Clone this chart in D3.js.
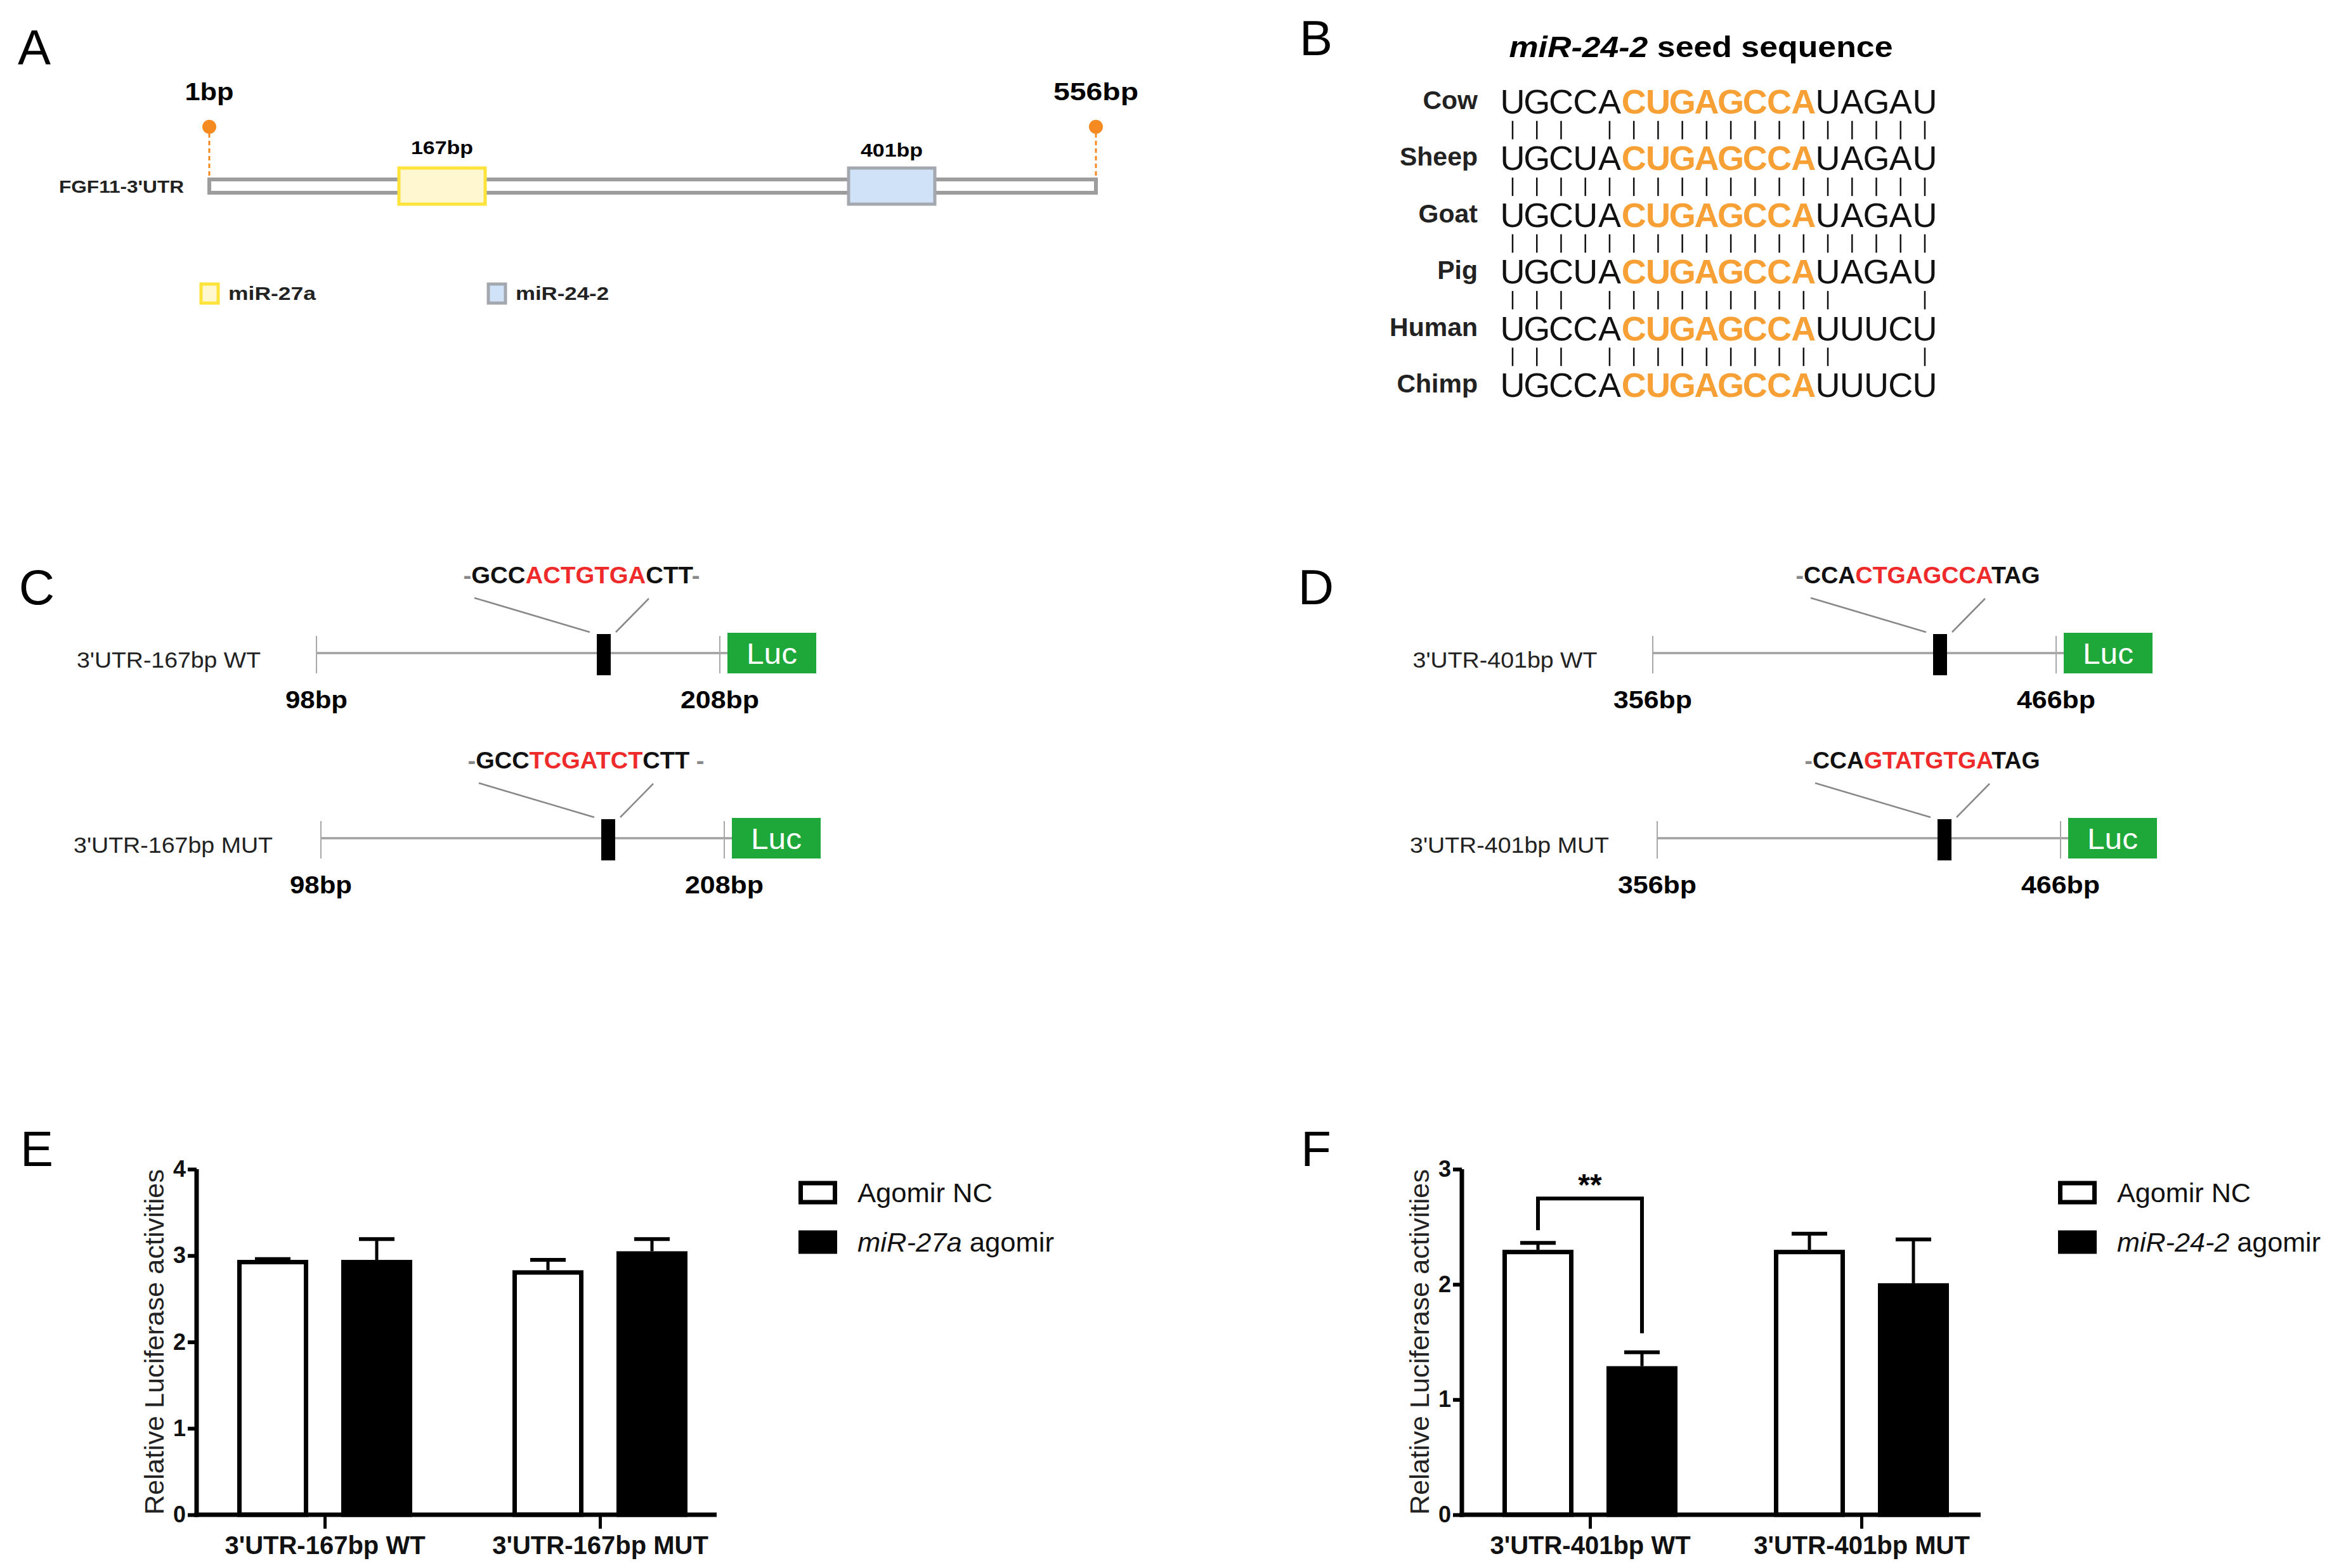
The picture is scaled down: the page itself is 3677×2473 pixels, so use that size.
<!DOCTYPE html>
<html><head><meta charset="utf-8">
<script src="https://cdn.jsdelivr.net/npm/d3@7"></script>
<style>html,body{margin:0;padding:0;background:#fff}svg{display:block}</style>
</head><body>
<script>
// ---------------- DATA ----------------
// Panel A
const utrName = "FGF11-3'UTR";
const utrEnds = [1, 556];
const siteBp = [167, 401];
const siteMirs = ["miR-27a", "miR-24-2"];
// Panel B
const species = ["Cow", "Sheep", "Goat", "Pig", "Human", "Chimp"];
const seqLeft = ["UGCCA", "UGCUA", "UGCUA", "UGCUA", "UGCCA", "UGCCA"];
const seedSeq = "CUGAGCCA";
const seqRight = ["UAGAU", "UAGAU", "UAGAU", "UAGAU", "UUUCU", "UUUCU"];
const matchRows = ["|||.||||||||||||||", "||||||||||||||||||", "||||||||||||||||||", "|||.||||||||||...|", "|||.||||||||||...|"];
// Panels C / D
const constructsC = [
  {label: "3'UTR-167bp WT", ends: [98, 208], site: 167, seq: [["-", "g"], ["GCC", "k"], ["ACTGTGA", "r"], ["CTT", "k"], ["-", "g"]]},
  {label: "3'UTR-167bp MUT", ends: [98, 208], site: 167, seq: [["-", "g"], ["GCC", "k"], ["TCGATCT", "r"], ["CTT", "k"], [" -", "g"]]}
];
const constructsD = [
  {label: "3'UTR-401bp WT", ends: [356, 466], site: 401, seq: [["-", "g"], ["CCA", "k"], ["CTGAGCCA", "r"], ["TAG", "k"]]},
  {label: "3'UTR-401bp MUT", ends: [356, 466], site: 401, seq: [["-", "g"], ["CCA", "k"], ["GTATGTGA", "r"], ["TAG", "k"]]}
];
// Panel E
const groupsE = ["3'UTR-167bp WT", "3'UTR-167bp MUT"];
const seriesE = ["Agomir NC", "miR-27a agomir"];
const meanE_NC = [2.95, 2.83];
const errE_NC = [0.01, 0.12];
const meanE_AG = [2.95, 3.05];
const errE_AG = [0.24, 0.14];
const ticksE = [0, 1, 2, 3, 4];
// Panel F
const groupsF = ["3'UTR-401bp WT", "3'UTR-401bp MUT"];
const seriesF = ["Agomir NC", "miR-24-2 agomir"];
const meanF_NC = [2.30, 2.30];
const errF_NC = [0.06, 0.14];
const meanF_AG = [1.29, 2.01];
const errF_AG = [0.12, 0.38];
const ticksF = [0, 1, 2, 3];
const sigF = "**";

// ---------------- DRAWING ----------------
const W = 3677, H = 2473;
const FONT = "'Liberation Sans', Arial, Helvetica, sans-serif";
const COL = {k: "#111", r: "#ee2a2a", g: "#888", orange: "#f7a035", dot: "#f58a20", luc: "#1fa83a"};
const svg = d3.select("body").append("svg").attr("width", W).attr("height", H)
  .attr("font-family", FONT);
svg.append("rect").attr("width", W).attr("height", H).attr("fill", "#fff");

function txt(g, x, y, parts, o = {}) {
  const t = g.append("text").attr("x", x).attr("y", y)
    .attr("font-size", o.size || 30)
    .attr("font-weight", o.weight || "normal")
    .attr("text-anchor", o.anchor || "start")
    .attr("dominant-baseline", "central")
    .attr("fill", o.fill || "#000");
  if (o.len) t.attr("textLength", o.len).attr("lengthAdjust", "spacingAndGlyphs");
  if (o.rotate) t.attr("transform", `rotate(${o.rotate},${x},${y})`);
  if (typeof parts === "string") parts = [{t: parts}];
  parts.forEach(p => {
    const s = t.append("tspan").text(p.t);
    if (p.fill) s.attr("fill", p.fill);
    if (p.italic) s.attr("font-style", "italic");
    if (p.weight) s.attr("font-weight", p.weight);
  });
  return t;
}

// Panel letters
[["A", 54, 75], ["B", 2075, 60], ["C", 58, 926], ["D", 2075, 926], ["E", 58, 1812], ["F", 2075, 1812]]
  .forEach(([l, x, y]) => txt(svg, x, y, l, {size: 78, anchor: "middle"}));

// ---------- Panel A ----------
(function () {
  const g = svg.append("g");
  const xA = d3.scaleLinear().domain([utrEnds[0], siteBp[0], siteBp[1], utrEnds[1]]).range([330, 697, 1406, 1728]);
  const barY = 283, barH = 21;
  g.append("rect").attr("x", xA(utrEnds[0])).attr("y", barY).attr("width", xA(utrEnds[1]) - xA(utrEnds[0])).attr("height", barH)
    .attr("fill", "#fff").attr("stroke", "#9d9d9d").attr("stroke-width", 6);
  const boxStyles = [{stroke: "#fde33a", fill: "#fff7cf"}, {stroke: "#a3a7ae", fill: "#cfe2f8"}];
  siteBp.forEach((bp, i) => {
    g.append("rect").attr("x", xA(bp) - 68).attr("y", 265).attr("width", 136).attr("height", 57)
      .attr("fill", boxStyles[i].fill).attr("stroke", boxStyles[i].stroke).attr("stroke-width", 5);
    txt(g, xA(bp), 233 + i * 4, bp + "bp", {size: 29, weight: "bold", anchor: "middle", len: 98});
  });
  utrEnds.forEach((bp, i) => {
    const x = xA(bp);
    g.append("line").attr("x1", x).attr("x2", x).attr("y1", 210).attr("y2", 280)
      .attr("stroke", COL.dot).attr("stroke-width", 3).attr("stroke-dasharray", "7,5");
    g.append("circle").attr("cx", x).attr("cy", 200).attr("r", 11).attr("fill", COL.dot);
    txt(g, x, 145, bp + "bp", {size: 38, weight: "bold", anchor: "middle", len: i ? 134 : 77});
  });
  txt(g, 290, 295, utrName, {size: 27, weight: "bold", anchor: "end", len: 197, fill: "#222"});
  // legend
  const legX = [314, 767];
  siteMirs.forEach((m, i) => {
    g.append("rect").attr("x", legX[i] + 3).attr("y", 448).attr("width", 27).attr("height", 30)
      .attr("fill", boxStyles[i].fill).attr("stroke", boxStyles[i].stroke).attr("stroke-width", 5);
    txt(g, legX[i] + 46, 463, m, {size: 29, weight: "bold", len: i ? 147 : 138, fill: "#222"});
  });
})();

// ---------- Panel B ----------
(function () {
  const g = svg.append("g");
  txt(g, 2682, 74, [{t: "miR-24-2", italic: true}, {t: " seed sequence"}], {size: 46, weight: "bold", anchor: "middle", len: 605});
  const yRow = d3.scalePoint().domain(species).range([158, 605]);
  const xChar = d3.scalePoint().domain(d3.range(18)).range([2385, 3035]);
  species.forEach((sp, i) => {
    txt(g, 2330, yRow(sp), sp, {size: 41, weight: "bold", anchor: "end", fill: "#222"});
    const chars = (seqLeft[i] + seedSeq + seqRight[i]).split("");
    const s0 = seqLeft[i].length, s1 = s0 + seedSeq.length;
    chars.forEach((c, j) => {
      const seed = j >= s0 && j < s1;
      txt(g, xChar(j), yRow(sp) + 2, c, {size: 54, anchor: "middle", weight: seed ? "bold" : "normal",
        fill: seed ? COL.orange : "#111"});
    });
  });
  matchRows.forEach((row, i) => {
    const mid = (yRow(species[i]) + yRow(species[i + 1])) / 2;
    row.split("").forEach((c, j) => {
      if (c !== "|") return;
      g.append("line").attr("x1", xChar(j)).attr("x2", xChar(j)).attr("y1", mid - 12).attr("y2", mid + 17)
        .attr("stroke", "#111").attr("stroke-width", 2.5);
    });
  });
})();

// ---------- Panels C / D ----------
function construct(g, c, ox, oy, seqLen, labLen) {
  const x = d3.scaleLinear().domain([c.ends[0], c.site, c.ends[1]]).range([ox, ox + 453, ox + 636]);
  const lineEnd = x(c.ends[1]) + 12;
  g.append("line").attr("x1", x(c.ends[0])).attr("x2", lineEnd).attr("y1", oy).attr("y2", oy)
    .attr("stroke", "#a0a0a0").attr("stroke-width", 3.5);
  c.ends.forEach(bp => {
    g.append("line").attr("x1", x(bp)).attr("x2", x(bp)).attr("y1", oy - 27).attr("y2", oy + 32)
      .attr("stroke", "#a8a8a8").attr("stroke-width", 2);
    txt(g, x(bp), oy + 73, bp + "bp", {size: 39, weight: "bold", anchor: "middle", len: String(bp).length === 2 ? 98 : 124});
  });
  // Luc box
  g.append("rect").attr("x", lineEnd).attr("y", oy - 32).attr("width", 140).attr("height", 64).attr("fill", COL.luc);
  txt(g, lineEnd + 70, oy + 1, "Luc", {size: 46, anchor: "middle", fill: "#fff", len: 80});
  // site
  const sx = x(c.site);
  g.append("rect").attr("x", sx - 11).attr("y", oy - 30).attr("width", 22).attr("height", 65).attr("fill", "#000");
  g.append("line").attr("x1", sx - 204).attr("y1", oy - 87).attr("x2", sx - 22).attr("y2", oy - 33)
    .attr("stroke", "#888").attr("stroke-width", 2.5);
  g.append("line").attr("x1", sx + 71).attr("y1", oy - 86).attr("x2", sx + 19).attr("y2", oy - 33)
    .attr("stroke", "#888").attr("stroke-width", 2.5);
  txt(g, ox + 418, oy - 123, c.seq.map(([t, k]) => ({t, fill: COL[k]})), {size: 36, weight: "bold", anchor: "middle", len: seqLen});
  txt(g, ox - 233, oy + 10, c.label, {size: 35, anchor: "middle", fill: "#222", len: labLen});
}
(function () {
  const g = svg.append("g");
  construct(g, constructsC[0], 499, 1030, 373, 290);
  construct(g, constructsC[1], 506, 1322, 373, 314);
  construct(g, constructsD[0], 2606, 1030, 385, 291);
  construct(g, constructsD[1], 2613, 1322, 371, 314);
})();

// ---------- Panels E / F ----------
function barChart(o) {
  const g = svg.append("g");
  const y = d3.scaleLinear().domain([0, d3.max(o.ticks)]).range([2389, 1844]);
  const x0 = d3.scalePoint().domain(o.groups).range(o.groupRange);
  const x1 = d3.scaleBand().domain(o.series).range([-138, 138]).paddingInner(0.317);
  const bw = x1.bandwidth();
  const fills = ["#fff", "#000"];
  o.series.forEach((s, si) => {
    o.groups.forEach((gr, gi) => {
      const v = o.means[si][gi], e = o.errs[si][gi];
      const cx = x0(gr) + x1(s) + bw / 2;
      // error bar (upper only)
      g.append("line").attr("x1", cx).attr("x2", cx).attr("y1", y(v)).attr("y2", y(v + e))
        .attr("stroke", "#000").attr("stroke-width", 5);
      g.append("line").attr("x1", cx - bw / 4).attr("x2", cx + bw / 4).attr("y1", y(v + e)).attr("y2", y(v + e))
        .attr("stroke", "#000").attr("stroke-width", 6);
      g.append("rect").attr("x", x0(gr) + x1(s) + 3.5).attr("y", y(v) + 3.5)
        .attr("width", bw - 7).attr("height", y(0) - y(v) - 3.5)
        .attr("fill", fills[si]).attr("stroke", "#000").attr("stroke-width", 7);
    });
  });
  // y axis
  const ya = g.append("g").attr("transform", `translate(${o.axisX},0)`)
    .call(d3.axisLeft(y).tickValues(o.ticks).tickFormat(d3.format("d")).tickSize(14).tickPadding(3).tickSizeOuter(0));
  ya.select(".domain").attr("stroke-width", 7).attr("d", `M0,${y(0) + 3.5}V${y.range()[1]}`);
  ya.selectAll(".tick line").attr("stroke-width", 6);
  ya.selectAll(".tick text").attr("font-size", 36).attr("font-weight", "bold").attr("font-family", FONT).attr("fill", "#111");
  // x axis
  const xa = g.append("g").attr("transform", `translate(0,${y(0)})`)
    .call(d3.axisBottom(x0).tickSize(22).tickPadding(12));
  xa.select(".domain").attr("stroke-width", 7).attr("d", `M${o.axisX - 3.5},0H${o.axisEnd}`);
  xa.selectAll(".tick line").attr("stroke-width", 5);
  xa.selectAll(".tick text").attr("font-size", 40).attr("font-weight", "bold").attr("font-family", FONT).attr("fill", "#111");
  // y title
  txt(g, o.axisX - 67, (y(0) + y.range()[1]) / 2, "Relative Luciferase activities",
    {size: 42, anchor: "middle", rotate: -90, len: 545, fill: "#222"});
  // legend
  o.series.forEach((s, si) => {
    const ly = 1881 + si * 78;
    g.append("rect").attr("x", o.legX + 3.5).attr("y", ly - 15).attr("width", 54).attr("height", 30)
      .attr("fill", fills[si]).attr("stroke", "#000").attr("stroke-width", 7);
    const parts = si === 0 ? [{t: s}] : [{t: s.split(" ")[0], italic: true}, {t: " " + s.split(" ").slice(1).join(" ")}];
    txt(g, o.legX + 93, ly, parts, {size: 42, len: o.legLen[si], fill: "#111"});
  });
  // significance
  if (o.sig) {
    const xa0 = x0(o.groups[0]) + x1(o.series[0]) + bw / 2;
    const xa1 = x0(o.groups[0]) + x1(o.series[1]) + bw / 2;
    const topA = y(o.means[0][0] + o.errs[0][0]) - 20;
    const topB = y(o.means[1][0] + o.errs[1][0]) - 30;
    const yb = topA - 50;
    g.append("path").attr("d", `M${xa0},${topA}V${yb}H${xa1}V${topB}`)
      .attr("fill", "none").attr("stroke", "#000").attr("stroke-width", 6);
    txt(g, (xa0 + xa1) / 2, yb - 22, o.sig, {size: 48, weight: "bold", anchor: "middle"});
  }
}
barChart({groups: groupsE, series: seriesE, means: [meanE_NC, meanE_AG], errs: [errE_NC, errE_AG], ticks: ticksE,
  groupRange: [512, 946], axisX: 310, axisEnd: 1130, legX: 1259, legLen: [213, 310]});
barChart({groups: groupsF, series: seriesF, means: [meanF_NC, meanF_AG], errs: [errF_NC, errF_AG], ticks: ticksF,
  groupRange: [2507, 2935], axisX: 2305, axisEnd: 3123, legX: 3245, legLen: [211, 321], sig: sigF});
</script>
</body></html>
